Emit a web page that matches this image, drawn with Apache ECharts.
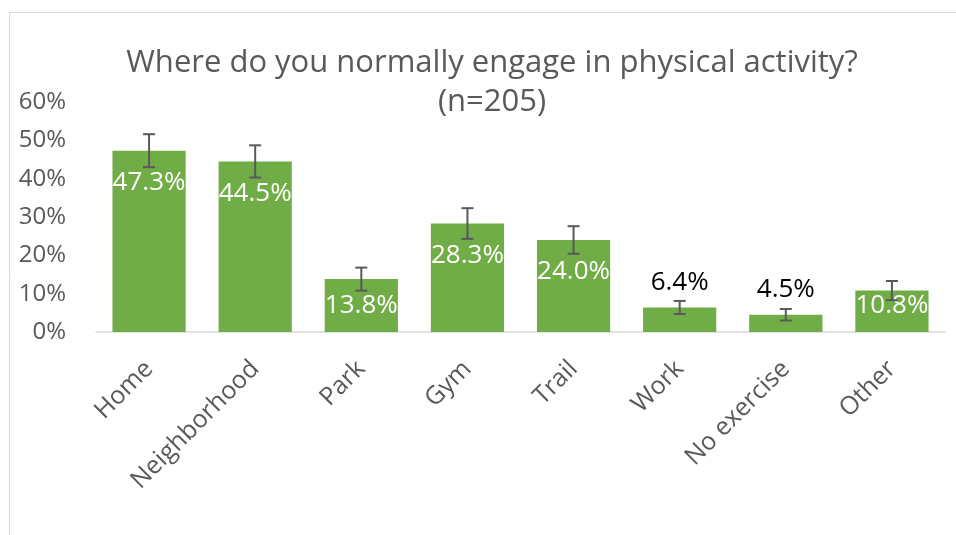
<!DOCTYPE html>
<html><head><meta charset="utf-8">
<script src="https://cdn.jsdelivr.net/npm/echarts@6/dist/echarts.min.js"></script>
<style>html,body{margin:0;padding:0;background:#fff}#c{width:956px;height:535px}</style>
</head><body><div id="c"></div>
<script>
const categories = ['Home','Neighborhood','Park','Gym','Trail','Work','No exercise','Other'];
const values = [47.3, 44.5, 13.8, 28.3, 24.0, 6.4, 4.5, 10.8];
const errors = [4.3, 4.2, 3.0, 4.0, 3.6, 1.7, 1.5, 2.5];
const yTicks = [0, 10, 20, 30, 40, 50, 60];

const FONT = '"Open Sans", sans-serif';
const chart = echarts.init(document.getElementById('c'), null, {renderer:'canvas'});

const outside = {'Work':1, 'No exercise':1};
const bottomAnchored = {'Park':1, 'Other':1};
const barData = values.map((v, i) => {
  const c = categories[i];
  let label;
  if (outside[c]) label = {position:'top', distance:12, color:'#000000'};
  else if (bottomAnchored[c]) label = {position:'insideBottom', distance:13, color:'#ffffff'};
  else label = {position:'insideTop', distance:19, color:'#ffffff'};
  return {value:v, label:label};
});
const errData = values.map((v, i) => [i, v - errors[i], v + errors[i]]);

chart.setOption({
  animation:false,
  title:{
    text:'Where do you normally engage in physical activity?\n(n=205)',
    left:487, top:39, textAlign:'center',
    textStyle:{fontFamily:FONT, fontSize:31, fontWeight:'normal', color:'#595959', lineHeight:39}
  },
  graphic:[{type:'rect', shape:{x:9.5, y:12.5, width:1000, height:600},
    style:{fill:'none', stroke:'#d9d9d9', lineWidth:1}, silent:true}],
  grid:{left:96, right:11, top:102, bottom:203},
  xAxis:{
    type:'category', data:categories,
    axisLine:{lineStyle:{color:'#d9d9d9', width:1.5}},
    axisTick:{show:false},
    axisLabel:{rotate:45, interval:0, margin:33, color:'#595959', fontFamily:FONT, fontSize:25}
  },
  yAxis:{
    type:'value', min:yTicks[0], max:yTicks[yTicks.length-1], interval:10,
    splitLine:{show:false}, axisLine:{show:false}, axisTick:{show:false},
    axisLabel:{formatter:v => v + '%', color:'#595959', fontFamily:FONT, fontSize:24, margin:30}
  },
  series:[
    {
      type:'bar', data:barData, barCategoryGap:'31%',
      itemStyle:{color:'#70ad47'},
      label:{show:true, fontFamily:FONT, fontSize:26, formatter:p => p.value.toFixed(1) + '%'}
    },
    {
      type:'custom', data:errData, z:10,
      renderItem:(params, api) => {
        const x = api.value(0);
        const lo = api.coord([x, api.value(1)]);
        const hi = api.coord([x, api.value(2)]);
        const hw = 6;
        const st = {stroke:'#595959', lineWidth:2};
        return {type:'group', children:[
          {type:'line', shape:{x1:lo[0], y1:lo[1], x2:hi[0], y2:hi[1]}, style:st},
          {type:'line', shape:{x1:lo[0]-hw, y1:lo[1], x2:lo[0]+hw, y2:lo[1]}, style:st},
          {type:'line', shape:{x1:hi[0]-hw, y1:hi[1], x2:hi[0]+hw, y2:hi[1]}, style:st}
        ]};
      }
    }
  ]
});
</script></body></html>
